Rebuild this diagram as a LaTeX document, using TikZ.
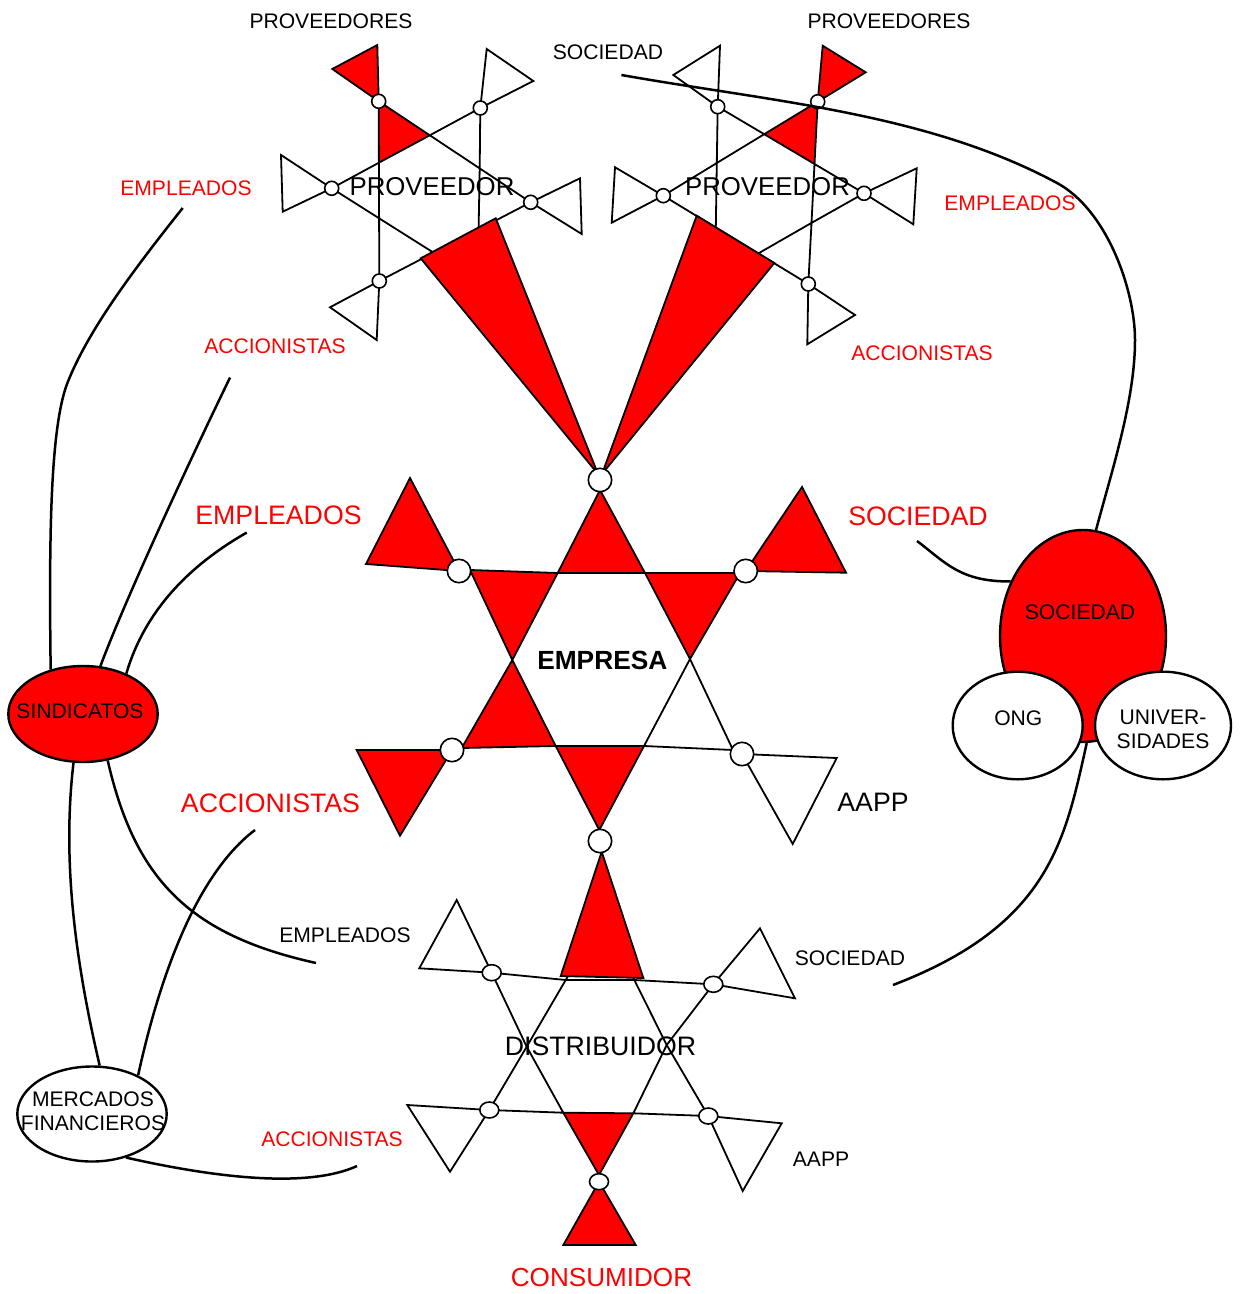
\documentclass[tikz,border=0pt]{standalone}
\usepackage{fontspec}
\setmainfont{Liberation Sans}
\usetikzlibrary{shapes.geometric}
\newcommand\smtxt{\fontsize{10.55}{12.2}\selectfont}
\newcommand\bgtxt{\fontsize{13.35}{15}\selectfont}
\begin{document}
\begin{tikzpicture}[x=0.5pt,y=-0.5pt,
  edge/.style={draw, line width=0.9pt, line join=miter},
  redtri/.style={edge, fill=red},
  whitetri/.style={edge, fill=white},
  knob/.style={circle, draw, fill=white, line width=0.8pt, inner sep=0pt},
  bigknob/.style={knob, minimum size=11.7pt},
  smallknob/.style={knob, minimum size=7pt},
  oval/.style={ellipse, draw, fill=white, line width=0.8pt, inner sep=0pt, minimum width=9.5pt, minimum height=8pt},
  blob/.style={ellipse, draw, line width=1.2pt, inner sep=0pt},
  link/.style={draw, line width=1.25pt},
  sm/.style={inner sep=0pt, font=\smtxt},
  bg/.style={inner sep=0pt, font=\bgtxt},
  redtxt/.style={text=red}]
\useasboundingbox (0,0) rectangle (1241,1294);

% ---------- left PROVEEDOR star ----------
\draw[redtri]   (332.3,69) -- (377.3,45) -- (378.7,101.3) -- cycle;
\draw[whitetri] (486.7,49) -- (533.3,81) -- (480.3,108) -- cycle;
\draw[whitetri] (281,155) -- (282.7,211.7) -- (331.7,188.3) -- cycle;
\draw[whitetri] (580,178.3) -- (581.7,234) -- (530.7,202.3) -- cycle;
\draw[whitetri] (330,307.3) -- (376.7,340) -- (379.3,281) -- cycle;
\draw[redtri]   (378.7,101.3) -- (429.8,135.3) -- (378.9,162.7) -- cycle;
\draw[whitetri] (480.3,108) -- (429.8,135.3) -- (479.7,168.4) -- cycle;
\draw[whitetri] (530.7,202.3) -- (479.7,168.4) -- (478.6,229.4) -- cycle;
\draw[whitetri] (478.3,281) -- (478.6,229.4) -- (433.6,252.7) -- cycle;
\draw[whitetri] (379.3,281) -- (433.6,252.7) -- (379.1,218.3) -- cycle;
\draw[whitetri] (331.7,188.3) -- (379.1,218.3) -- (378.9,162.7) -- cycle;

% ---------- right PROVEEDOR star ----------
\draw[redtri]   (822.7,45.7) -- (865.7,72.3) -- (817.7,101.7) -- cycle;
\draw[whitetri] (720,45.7) -- (673.3,75) -- (717.7,106.7) -- cycle;
\draw[whitetri] (615,167.3) -- (611.7,222.7) -- (663.3,195.7) -- cycle;
\draw[whitetri] (916.7,168.3) -- (913.3,224.3) -- (864,193.3) -- cycle;
\draw[whitetri] (855,315) -- (807.3,344.3) -- (808.3,284) -- cycle;
\draw[redtri]   (817.7,101.7) -- (764.2,134.2) -- (814.5,164) -- cycle;
\draw[whitetri] (717.7,106.7) -- (764.2,134.2) -- (716.8,163) -- cycle;
\draw[whitetri] (663.3,195.7) -- (716.8,163) -- (715.8,227.7) -- cycle;
\draw[whitetri] (715,278) -- (715.8,227.7) -- (758.2,253.5) -- cycle;
\draw[whitetri] (808.3,284) -- (758.2,253.5) -- (811.5,222.9) -- cycle;
\draw[whitetri] (864,193.3) -- (811.5,222.9) -- (814.5,164) -- cycle;

% ---------- wedges from the suppliers to the company ----------
\draw[redtri] (420.7,258.3) -- (495.7,218.3) -- (598,474) -- cycle;
\draw[redtri] (696.7,215.7) -- (774.3,263) -- (602,474) -- cycle;

\node[smallknob] (pa1) at (378.7,101.3) {};
\node[smallknob] (pa2) at (480.3,108) {};
\node[smallknob] (pa3) at (331.7,188.3) {};
\node[smallknob] (pa4) at (530.7,202.3) {};
\node[smallknob] (pa5) at (379.3,281) {};
\node[smallknob] (pb1) at (817.7,101.7) {};
\node[smallknob] (pb2) at (717.7,106.7) {};
\node[smallknob] (pb3) at (663.3,195.7) {};
\node[smallknob] (pb4) at (864,193.3) {};
\node[smallknob] (pb5) at (808.3,284) {};

% ---------- EMPRESA star ----------
\draw[redtri]   (366,564) -- (410,478) -- (459,571) -- cycle;
\draw[redtri]   (846,572.7) -- (802,487) -- (745.7,571) -- cycle;
\draw[redtri]   (356.7,750) -- (400,835.7) -- (452,750) -- cycle;
\draw[whitetri] (836.7,758) -- (792.7,844) -- (742,754) -- cycle;
\draw[redtri]   (600,490) -- (557.7,573) -- (645,573) -- cycle;
\draw[redtri]   (740,573) -- (645,573) -- (690,659) -- cycle;
\draw[whitetri] (733,750) -- (690,659) -- (644,746) -- cycle;
\draw[redtri]   (599.3,830) -- (644,746) -- (555.7,746) -- cycle;
\draw[redtri]   (461.7,748) -- (555.7,746) -- (512.3,660) -- cycle;
\draw[redtri]   (470,570) -- (512.3,660) -- (557.7,573) -- cycle;

% ---------- DISTRIBUIDOR star ----------
\draw[whitetri] (419.3,968.3) -- (456.7,900) -- (491.7,972.7) -- cycle;
\draw[whitetri] (760,928.3) -- (795,998.3) -- (713.3,984.3) -- cycle;
\draw[whitetri] (407.3,1105) -- (450,1171.7) -- (489.3,1110) -- cycle;
\draw[whitetri] (781.7,1123.3) -- (742.7,1191) -- (708.3,1116) -- cycle;
\draw[redtri]   (563.3,1245) -- (635.7,1245) -- (599,1181.7) -- cycle;
\draw[whitetri] (600,920) -- (565.7,980) -- (634.3,980) -- cycle;
\draw[whitetri] (491.7,972.7) -- (565.7,980) -- (526.7,1046.7) -- cycle;
\draw[whitetri] (713.3,984.3) -- (634.3,980) -- (666.7,1045) -- cycle;
\draw[whitetri] (489.3,1110) -- (526.7,1046.7) -- (563.3,1112.7) -- cycle;
\draw[whitetri] (708.3,1116) -- (666.7,1045) -- (633.3,1113.3) -- cycle;
\draw[redtri]   (599,1175) -- (563.3,1112.7) -- (633.3,1113.3) -- cycle;
\draw[redtri]   (601.7,851.7) -- (560.7,976) -- (643.3,978) -- cycle;

\node[bigknob] (ea1) at (600,480) {};
\node[bigknob] (ea2) at (459,571) {};
\node[bigknob] (ea3) at (745.7,571) {};
\node[bigknob] (ea4) at (452,750) {};
\node[bigknob] (ea5) at (742,754) {};
\node[bigknob] (ea6) at (600,841) {};
\node[oval] (da1) at (491.7,972.7) {};
\node[oval] (da2) at (713.3,984.3) {};
\node[oval] (da3) at (489.3,1110) {};
\node[oval] (da4) at (708.3,1116) {};
\node[oval] (da5) at (599,1181.7) {};

% ---------- groups ----------
\node[blob, fill=red, minimum width=74.7pt, minimum height=48pt] (sind) at (83,714) {};
\node[blob, fill=white, minimum width=74.7pt, minimum height=47.5pt] (merc) at (92,1114) {};
\node[blob, fill=red, minimum width=83pt, minimum height=106pt] (soc) at (1083,636) {};
\draw[link] (soc.-88) .. controls (1065,840) and (1050,925) .. (893,985) coordinate (fSocC);
\node[blob, fill=white, minimum width=65pt, minimum height=53.8pt] (ong) at (1017.7,725.5) {};
\node[blob, fill=white, minimum width=68pt, minimum height=53.8pt] (univ) at (1163,725.5) {};

\node[sm] (lSind) at (80,711.5) {SINDICATOS};
\node[sm, align=center] (lMerc) at (93,1111) {MERCADOS\\FINANCIEROS};
\node[sm] (lSoc) at (1080,612.5) {SOCIEDAD};
\node[sm] (lOng) at (1018.3,718) {ONG};
\node[sm, align=center] (lUniv) at (1163,729.5) {UNIVER-\\SIDADES};

% ---------- labels ----------
\node[sm] (tProvA) at (331,21) {PROVEEDORES};
\node[sm] (tProvB) at (889,21) {PROVEEDORES};
\node[sm] (tSocA) at (608,52) {SOCIEDAD};
\node[sm, redtxt] (tEmpA) at (186,188) {EMPLEADOS};
\node[inner sep=0pt, font=\fontsize{12.9}{15}\selectfont] (tPrvL) at (432,187) {PROVEEDOR};
\node[inner sep=0pt, font=\fontsize{12.9}{15}\selectfont] (tPrvR) at (767.5,187) {PROVEEDOR};
\node[sm, redtxt] (tEmpB) at (1010,203) {EMPLEADOS};
\node[sm, redtxt] (tAccA) at (275,346) {ACCIONISTAS};
\node[sm, redtxt] (tAccB) at (922,353.5) {ACCIONISTAS};
\node[bg, redtxt] (tEmpC) at (278.5,515) {EMPLEADOS};
\node[bg, redtxt] (tSocB) at (918,516) {SOCIEDAD};
\node[inner sep=0pt, font=\fontsize{13.15}{15}\selectfont\bfseries] (tEmpresa) at (602.3,660) {EMPRESA};
\node[bg, redtxt] (tAccC) at (270.5,803.5) {ACCIONISTAS};
\node[bg] (tAapp) at (873,802) {AAPP};
\node[sm] (tEmpD) at (345,935) {EMPLEADOS};
\node[sm] (tSocC) at (850,958.5) {SOCIEDAD};
\node[bg] (tDist) at (600.5,1046) {DISTRIBUIDOR};
\node[sm, redtxt] (tAccD) at (332,1139.5) {ACCIONISTAS};
\node[sm] (tAappB) at (821,1159.5) {AAPP};
\node[inner sep=0pt, font=\fontsize{13.05}{15}\selectfont, redtxt] (tCons) at (601.5,1278) {CONSUMIDOR};

% ---------- connectors ----------
\coordinate (fEmpA) at (182.7,208);
\coordinate (fAccA) at (230,377.6);
\coordinate (fEmpC) at (246.7,532.6);
\coordinate (fEmpD) at (316,963);
\coordinate (fAccC) at (255,830);
\coordinate (fAccD) at (357,1166);
\coordinate (fSocA) at (621.4,75);
\coordinate (fSocB) at (917,541);

\draw[link] (fEmpA) .. controls (135,268) and (88,330) .. (67,384)
            .. controls (50,430) and (49,540) .. (sind.126);
\draw[link] (fAccA) .. controls (190,460) and (125,600) .. (sind.70);
\draw[link] (fEmpC) .. controls (190,565) and (145,610) .. (sind.43);
\draw[link] (sind.-62) .. controls (135,880) and (190,935) .. (fEmpD);
\draw[link] (sind.-101) .. controls (62,860) and (75,960) .. (merc.81);
\draw[link] (fAccC) .. controls (215,860) and (170,930) .. (merc.40);
\draw[link] (merc.-52) .. controls (190,1172) and (300,1192) .. (fAccD);
\draw[link] (fSocA) .. controls (771,101.5) and (927,113) .. (1057,183)
            .. controls (1107,210) and (1135,290) .. (1135,340)
            .. controls (1135,400) and (1112,470) .. (soc.83);
\draw[link] (fSocB) .. controls (945,562) and (960,582) .. (soc.143);
\end{tikzpicture}
\end{document}
